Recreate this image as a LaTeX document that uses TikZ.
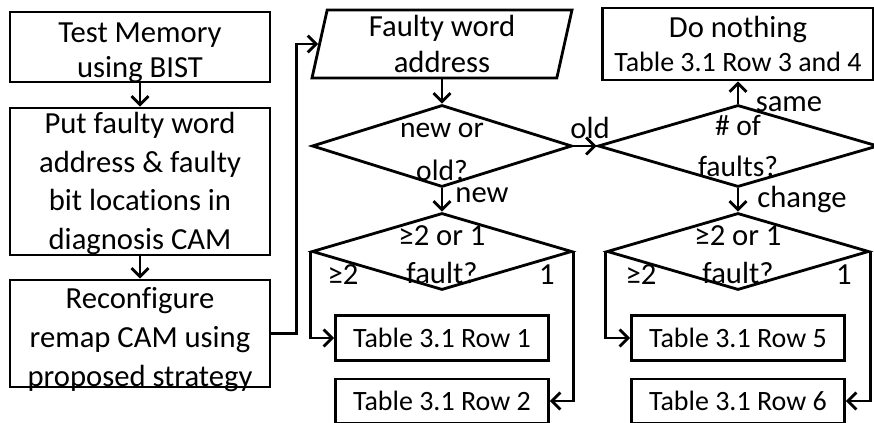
\documentclass[tikz,border=0pt]{standalone}
\usepackage{fontspec}
\setmainfont{Carlito}[Ligatures=NoCommon]
\usetikzlibrary{arrows.meta,shapes.geometric}

\begin{document}
\begin{tikzpicture}[
  every node/.style={font=\fontsize{21.8}{25}\selectfont},
  procbox/.style={draw, line width=2pt, inner sep=0pt, minimum width=6.5cm},
  ptext/.style={align=center, inner sep=0pt},
  rowbox/.style={draw, line width=2pt, inner sep=0pt, minimum width=5.325cm, minimum height=1.12cm,
    font=\fontsize{19.9}{24}\selectfont},
  iobox/.style={draw, line width=2pt, trapezium, trapezium left angle=75, trapezium right angle=105,
    trapezium stretches body=true, minimum width=6.5cm, minimum height=1.7cm, align=center, inner sep=0pt},
  decide/.style={draw, line width=2pt, diamond, inner sep=0pt, minimum width=6.5cm, minimum height=2.05cm},
  flow/.style={line width=2pt, -{Straight Barb[length=6pt,width=12pt]}},
]
\useasboundingbox (0,0) rectangle (21.85,10.575);

% Left column
\node[procbox, minimum height=1.75cm,
  label={[ptext, yshift=-0.15cm]center:{Test Memory\\using BIST}}] (bist) at (3.5,9.4) {};
\node[procbox, minimum height=3.675cm,
  label={[ptext, yshift=-0.05cm, font=\fontsize{21.8}{27.5}\selectfont]center:{Put faulty word\\address \& faulty\\bit locations in\\diagnosis CAM}}]
  (diag) at (3.5,6.0375) {};
\node[procbox, minimum height=2.675cm,
  label={[ptext, yshift=-0.15cm, font=\fontsize{21.8}{28}\selectfont]center:{Reconfigure\\remap CAM using\\proposed strategy}}]
  (remap) at (3.5,2.2375) {};

% Middle column
\node[iobox] (faulty) at (11.05,9.475) {Faulty word\\address};
\node[decide, label={[ptext, yshift=-0.15cm, font=\fontsize{21}{30}\selectfont]center:{new or\\old?}}]
  (neworold) at (11.05,6.925) {};
\node[decide, minimum height=1.925cm, label={[ptext, yshift=-0.075cm, font=\fontsize{21.8}{26.6}\selectfont]center:{≥2 or 1\\fault?}}]
  (fcount1) at (11.05,4.2875) {};
\node[rowbox] (row1) at (11.05,2.125) {Table 3.1 Row 1};
\node[rowbox, minimum height=1.1cm] (row2) at (11.05,0.55) {Table 3.1 Row 2};

% Right column
\node[procbox, minimum width=6.775cm, minimum height=1.8cm, align=center] (nothing) at (18.45,9.475)
  {Do nothing\\[-1pt]\fontsize{19.9}{24}\selectfont Table 3.1 Row 3 and 4};
\node[decide, minimum width=7cm, label={[ptext, font=\fontsize{21}{28.7}\selectfont]center:{\# of\\faults?}}]
  (numfaults) at (18.45,6.925) {};
\node[decide, minimum width=6.55cm, minimum height=1.925cm, label={[ptext, yshift=-0.075cm, font=\fontsize{21.8}{26.6}\selectfont]center:{≥2 or 1\\fault?}}]
  (fcount2) at (18.45,4.2875) {};
\node[rowbox] (row5) at (18.45,2.125) {Table 3.1 Row 5};
\node[rowbox, minimum height=1.1cm] (row6) at (18.45,0.55) {Table 3.1 Row 6};

% Branch labels
\node (lnew) at (12.05,5.7) {new};
\node (lold) at (14.75,7.375) {old};
\node (lsame) at (19.725,7.975) {same};
\node (lchange) at (20.05,5.575) {change};
\node (lmany1) at (8.575,3.7) {≥2};
\node (lone1) at (13.675,3.7) {1};
\node (lmany2) at (16.025,3.7) {≥2};
\node (lone2) at (21.1,3.7) {1};

% Connectors
\draw[flow] (bist) -- (diag);
\draw[flow] (diag) -- (remap);
\draw[flow] (remap.east) -- ++(0.625,0) |- (faulty.west);
\draw[flow] (faulty.south -| neworold) -- (neworold);
\draw[flow] (neworold) -- (fcount1);
\draw[flow] (neworold) -- (numfaults);
\draw[flow] (numfaults) -- (nothing);
\draw[flow] (numfaults) -- (fcount2);
\draw[flow] (fcount1.west) |- (row1);
\draw[flow] (fcount1.east) |- (row2);
\draw[flow] (fcount2.west) |- (row5);
\draw[flow] (fcount2.east) |- (row6);
\end{tikzpicture}
\end{document}
